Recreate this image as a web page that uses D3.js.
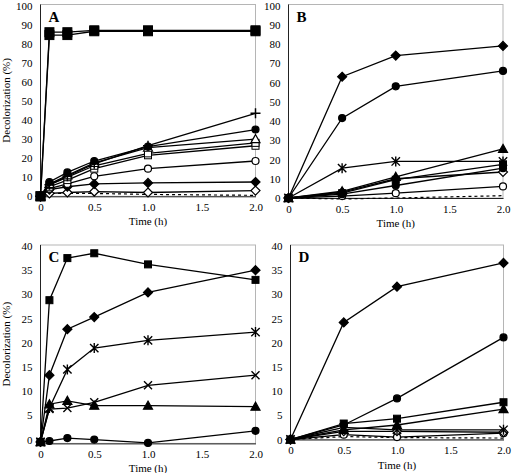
<!DOCTYPE html>
<html><head><meta charset="utf-8">
<script src="https://cdn.jsdelivr.net/npm/d3@7"></script>
<style>body{margin:0;background:#fff}svg{display:block}</style>
</head><body>
<svg id="c" width="512" height="473"></svg>
<script>
// ---- data ----
const timesFine = [0, 0.083, 0.25, 0.5, 1.0, 2.0];
const timesCoarse = [0, 0.5, 1.0, 2.0];
const xTickValues = [0, 0.5, 1.0, 1.5, 2.0];
const xTickLabels = ["0", "0.5", "1.0", "1.5", "2.0"];
const yTicksAB = [0,10,20,30,40,50,60,70,80,90,100];
const yTicksCD = [0,5,10,15,20,25,30,35,40];
const panelLetters = ["A","B","C","D"];
const xTitle = "Time (h)";
const yTitle = "Decolorization (%)";

// Panel A
const A_squareHi = [0, 86.0, 86.0, 87.0, 87.0, 87.0];
const A_squareLo = [0, 84.5, 84.5, 86.5, 86.5, 86.5];
const A_plus     = [0, 6.0, 10.5, 17.0, 26.5, 43.5];
const A_circle   = [0, 7.5, 12.5, 18.5, 26.0, 35.0];
const A_otri     = [0, 6.5, 11.0, 17.5, 25.5, 30.0];
const A_osquare1 = [0, 6.0, 10.0, 16.0, 22.5, 28.0];
const A_osquare2 = [0, 5.0, 8.5, 14.5, 21.5, 26.5];
const A_ocircle  = [0, 4.0, 6.5, 10.5, 14.5, 18.5];
const A_diamond  = [0, 3.5, 5.0, 6.5, 7.0, 7.5];
const A_odiamond = [0, 1.5, 2.0, 2.5, 2.0, 3.0];
const A_dotted   = [0, 1.5, 1.5, 1.5, 1.0, 0.5];

// Panel B
const B_diamond  = [0, 63.0, 74.0, 79.0];
const B_circle   = [0, 41.5, 58.0, 66.0];
const B_tri      = [0, 3.5, 11.0, 25.5];
const B_star     = [0, 15.5, 19.0, 19.0];
const B_square   = [0, 2.5, 9.5, 17.5];
const B_circle2  = [0, 2.0, 6.5, 15.5];
const B_odiamond = [0, 3.0, 10.0, 13.5];
const B_ocircle  = [0, 1.0, 2.5, 6.0];
const B_dotted   = [0, -0.5, 0.0, 1.2];

// Panel C
const C_square   = [-0.5, 28.8, 37.5, 38.5, 36.2, 33.0];
const C_diamond  = [-0.5, 13.3, 22.8, 25.3, 30.4, 35.0];
const C_star     = [-0.5, 6.5, 14.5, 18.9, 20.5, 22.2];
const C_x        = [-0.5, 6.3, 6.5, 7.7, 11.2, 13.3];
const C_tri      = [-0.5, 7.3, 8.0, 7.0, 7.0, 6.8];
const C_circle   = [-0.5, -0.3, 0.3, 0.0, -0.7, 1.8];

// Panel D
const D_diamond  = [0, 24.2, 31.6, 36.5];
const D_circle   = [0, 3.0, 8.5, 21.1];
const D_square   = [0, 3.3, 4.3, 7.7];
const D_tri      = [0, 2.0, 3.0, 6.3];
const D_star     = [0, 2.5, 2.0, 2.0];
const D_odiamond = [0, 1.7, 1.7, 1.5];
const D_ocircle  = [0, 1.0, 0.5, 1.3];
const D_dotted   = [0, 0.6, 0.4, 0.3];

// ---- layout / style ----
const panels = [
  {letter: panelLetters[0], x: [40.5, 255.5], y: [196.3, 5.5], yDom: [0, 100], yTicks: yTicksAB, yTitle: true, t: timesFine,
   series: [
     {v: A_dotted, m: "none", dash: true},
     {v: A_odiamond, m: "odiamond"},
     {v: A_diamond, m: "diamond"},
     {v: A_ocircle, m: "ocircle"},
     {v: A_osquare2, m: "osquare"},
     {v: A_osquare1, m: "osquare"},
     {v: A_otri, m: "otri"},
     {v: A_circle, m: "circle"},
     {v: A_plus, m: "plus"},
     {v: A_squareLo, m: "square", s: 9},
     {v: A_squareHi, m: "square", s: 9}
   ]},
  {letter: panelLetters[1], x: [288.5, 503], y: [198, 5.5], yDom: [0, 100], yTicks: yTicksAB, yTitle: false, t: timesCoarse,
   series: [
     {v: B_dotted, m: "none", dash: true},
     {v: B_ocircle, m: "ocircle"},
     {v: B_odiamond, m: "odiamond"},
     {v: B_circle2, m: "circle"},
     {v: B_square, m: "square"},
     {v: B_star, m: "star"},
     {v: B_tri, m: "tri"},
     {v: B_circle, m: "circle"},
     {v: B_diamond, m: "diamond"}
   ]},
  {letter: panelLetters[2], x: [40.5, 255.5], y: [443.4, 246], yDom: [-0.8, 40], yTicks: yTicksCD, yTitle: true, t: timesFine,
   series: [
     {v: C_circle, m: "circle"},
     {v: C_tri, m: "tri"},
     {v: C_x, m: "x"},
     {v: C_star, m: "star"},
     {v: C_diamond, m: "diamond"},
     {v: C_square, m: "square"}
   ]},
  {letter: panelLetters[3], x: [290.5, 503.5], y: [439.5, 246], yDom: [0, 40], yTicks: yTicksCD, yTitle: false, t: timesCoarse,
   series: [
     {v: D_dotted, m: "none", dash: true},
     {v: D_ocircle, m: "ocircle"},
     {v: D_odiamond, m: "odiamond"},
     {v: D_star, m: "star"},
     {v: D_tri, m: "tri"},
     {v: D_square, m: "square"},
     {v: D_circle, m: "circle"},
     {v: D_diamond, m: "diamond"}
   ]}
];

const svg = d3.select("#c");
const FONT = '"Liberation Serif", "Times New Roman", serif';

function marker(g, type, cx, cy, s) {
  const k = "#000";
  if (type === "square" || type === "osquare") {
    const z = s || 7;
    g.append("rect").attr("x", cx - z/2).attr("y", cy - z/2).attr("width", z).attr("height", z)
      .attr("fill", type === "square" ? k : "#fff").attr("stroke", k).attr("stroke-width", 1);
  } else if (type === "circle" || type === "ocircle") {
    g.append("circle").attr("cx", cx).attr("cy", cy).attr("r", 3.5)
      .attr("fill", type === "circle" ? k : "#fff").attr("stroke", k).attr("stroke-width", 1.2);
  } else if (type === "diamond" || type === "odiamond") {
    const r = 4.5;
    g.append("path").attr("d", `M${cx},${cy-r}L${cx+r},${cy}L${cx},${cy+r}L${cx-r},${cy}Z`)
      .attr("fill", type === "diamond" ? k : "#fff").attr("stroke", k).attr("stroke-width", 1.2);
  } else if (type === "tri" || type === "otri") {
    const r = 4.5;
    g.append("path").attr("d", `M${cx},${cy-r}L${cx+r},${cy+r*0.8}L${cx-r},${cy+r*0.8}Z`)
      .attr("fill", type === "tri" ? k : "#fff").attr("stroke", k).attr("stroke-width", 1.2);
  } else if (type === "plus") {
    const r = 5;
    g.append("path").attr("d", `M${cx-r},${cy}H${cx+r}M${cx},${cy-r}V${cy+r}`).attr("stroke", k).attr("stroke-width", 1.5);
  } else if (type === "x") {
    const r = 4;
    g.append("path").attr("d", `M${cx-r},${cy-r}L${cx+r},${cy+r}M${cx-r},${cy+r}L${cx+r},${cy-r}`).attr("stroke", k).attr("stroke-width", 1.4);
  } else if (type === "star") {
    const r = 4.2;
    g.append("path").attr("d", `M${cx-r},${cy-r}L${cx+r},${cy+r}M${cx-r},${cy+r}L${cx+r},${cy-r}M${cx},${cy-r-0.8}V${cy+r+0.8}`)
      .attr("stroke", k).attr("stroke-width", 1.4);
  }
}

panels.forEach(p => {
  const x = d3.scaleLinear().domain([0, 2]).range(p.x);
  const y = d3.scaleLinear().domain(p.yDom).range(p.y);
  const g = svg.append("g");
  const top = p.y[1] - 1, bot = p.y[0];
  g.append("rect").attr("x", p.x[0]).attr("y", top).attr("width", p.x[1] - p.x[0]).attr("height", bot - top)
    .attr("fill", "none").attr("stroke", "#b5b5b5").attr("stroke-width", 1);

  const ya = d3.axisLeft(y).tickValues(p.yTicks).tickFormat(d3.format("d")).tickSize(0).tickPadding(8);
  const yg = g.append("g").attr("transform", `translate(${p.x[0]},0)`).call(ya);
  yg.attr("font-family", FONT).attr("font-size", 11);
  yg.select(".domain").attr("stroke", "#222").attr("d", `M0,${bot}V${top}`);
  yg.selectAll("text").style("font-family", FONT).style("font-size", "11px").attr("fill", "#000");

  const xa = d3.axisBottom(x).tickValues(xTickValues).tickFormat((d, i) => xTickLabels[i]).tickSize(0).tickPadding(7);
  const xg = g.append("g").attr("transform", `translate(0,${bot})`).call(xa);
  xg.attr("font-family", FONT).attr("font-size", 11);
  xg.select(".domain").attr("stroke", "#222");
  xg.selectAll("text").style("font-family", FONT).style("font-size", "11px").attr("fill", "#000");

  const line = d3.line().x((d, i) => x(p.t[i])).y(d => y(d));
  p.series.forEach(s => {
    g.append("path").attr("d", line(s.v)).attr("fill", "none").attr("stroke", "#000")
      .attr("stroke-width", s.dash ? 1.2 : 1.3).attr("stroke-dasharray", s.dash ? "3,3" : null);
    if (s.m !== "none") s.v.forEach((d, i) => marker(g, s.m, x(p.t[i]), y(d), s.s));
  });

  g.append("text").attr("x", p.x[0] + 8).attr("y", top + 17).text(p.letter)
    .style("font-family", FONT).style("font-weight", "bold").style("font-size", "15px");
  g.append("text").attr("x", (p.x[0] + p.x[1]) / 2).attr("y", bot + 29).attr("text-anchor", "middle")
    .text(xTitle).style("font-family", FONT).style("font-size", "11px");
  if (p.yTitle) {
    g.append("text").attr("transform", `translate(10,${(top + bot) / 2}) rotate(-90)`).attr("text-anchor", "middle")
      .text(yTitle).style("font-family", FONT).style("font-size", "11px");
  }
});
</script>
</body></html>
